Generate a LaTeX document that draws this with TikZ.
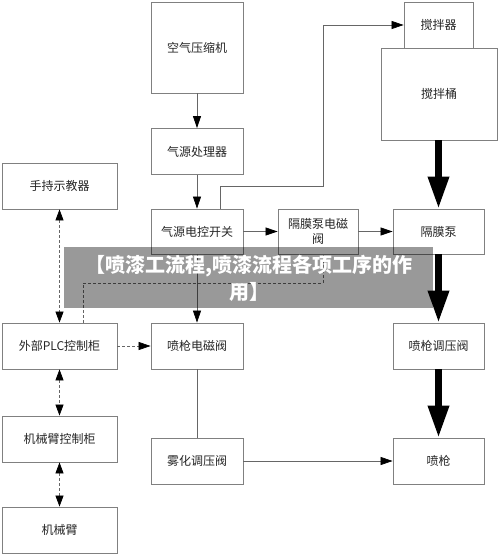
\documentclass[tikz,border=0pt]{standalone}
\usepackage{fontspec}
\newfontfamily\cjk{Noto Sans CJK SC}
\usetikzlibrary{arrows.meta}
\tikzset{
  box/.style={draw=black!50, line width=0.8pt, minimum width=92pt, minimum height=46pt, inner sep=1pt, align=center, font=\cjk\fontsize{12}{15}\selectfont, text=black!85},
  ln/.style={draw=black!60, line width=0.7pt},
  arr/.style={-{Triangle[length=12pt,width=8pt,color=black]}},
  darr/.style={{Triangle[length=11pt,width=8pt,color=black]}-{Triangle[length=11pt,width=8pt,color=black]}},
  dsh/.style={ln, dash pattern=on 3pt off 2pt},
  big/.style={line width=6.5pt, draw=black, -{Triangle[length=32pt,width=20pt]}},
}
\begin{document}
\begin{tikzpicture}[x=1pt,y=-1pt]
\useasboundingbox (0,0) rectangle (500,556);
\fill[white] (0,0) rectangle (500,556);
\node[box, minimum height=91pt] (kq) at (197,47.5) {空气压缩机};
\node[box] (qy) at (197,151.5) {气源处理器};
\node[box, minimum width=69pt] (jbq) at (438.5,25) {搅拌器};
\node[box, minimum width=116pt, minimum height=92pt] (jbt) at (439,94) {搅拌桶};
\node[box, minimum width=115pt] (sc) at (59.5,186) {手持示教器};
\node[box, minimum height=45pt] (dk) at (197,231.5) {气源电控开关};
\node[box, minimum width=80pt, minimum height=45pt] (gmf) at (318,231.5) {隔膜泵电磁\\阀};
\node[box, minimum width=91pt, minimum height=45pt] (gmb) at (438.5,231.5) {隔膜泵};
\node[box, minimum width=115pt] (plc) at (59.5,346) {外部PLC控制柜};
\node[box] (pdc) at (197,346) {喷枪电磁阀};
\node[box, minimum width=91pt] (ptv) at (438.5,346) {喷枪调压阀};
\node[box, minimum width=115pt] (jkg) at (59.5,439) {机械臂控制柜};
\node[box] (wh) at (197,461) {雾化调压阀};
\node[box, minimum width=91pt] (pq) at (438.5,461) {喷枪};
\node[box, minimum width=115pt] (jb) at (59.5,530) {机械臂};
% thin connectors
\draw[ln,arr] (kq) -- (qy);
\draw[ln,arr] (qy) -- (dk);
\draw[ln,arr] ([xshift=23pt]dk.north) |- (323,186) |- (jbq.west);
\draw[ln,arr] (dk) -- (gmf);
\draw[ln,arr] (gmf) -- (gmb);
\draw[ln,arr] (dk) -- (pdc);
\draw[ln] (pdc) -- (wh);
\draw[ln,arr] (wh) -- (pq);
% thick
\draw[big] (jbt.south -| gmb.north) -- (gmb.north);
\draw[big] (gmb) -- (ptv);
\draw[big] (ptv) -- (pq);
% dashed
\draw[dsh,darr] (sc) -- (plc);
\draw[dsh,darr] (plc) -- (jkg);
\draw[dsh,darr] (jkg) -- (jb);
\draw[dsh,arr] (plc) -- (pdc);
\draw[dsh] ([xshift=23.5pt]plc.north) |- (323,283) -- ([xshift=5pt]gmf.south);
% banner
\fill[black, opacity=0.4] (64,247) rectangle (433,308);
\node[font=\cjk\bfseries\fontsize{20}{27}\selectfont, text=white, align=center] (ban) at (249,278.5) {【喷漆工流程,喷漆流程各项工序的作\\用】};
\end{tikzpicture}
\end{document}
